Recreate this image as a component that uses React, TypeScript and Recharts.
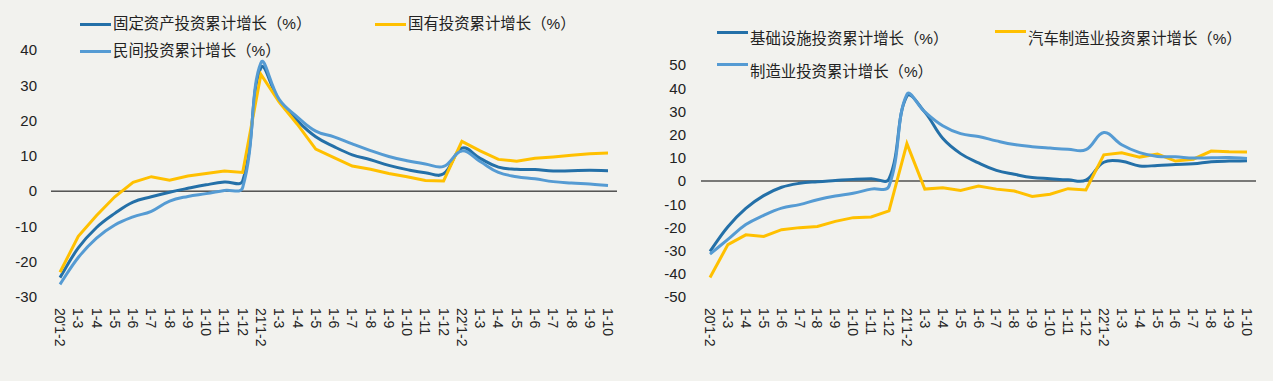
import React from 'react';
import { LineChart, Line, XAxis, YAxis, ReferenceLine } from 'recharts';

// categories (monthly cumulative, 2020-2022)
const categories = [
  "20'1-2", '1-3', '1-4', '1-5', '1-6', '1-7', '1-8', '1-9', '1-10', '1-11', '1-12',
  "21'1-2", '1-3', '1-4', '1-5', '1-6', '1-7', '1-8', '1-9', '1-10', '1-11', '1-12',
  "22'1-2", '1-3', '1-4', '1-5', '1-6', '1-7', '1-8', '1-9', '1-10',
];

// left chart
const fixedAsset = [
  -24.5, -16.1, -10.3, -6.3, -3.1, -1.6, -0.3, 0.8, 1.8, 2.6, 2.9,
  35.0, 25.6, 19.9, 15.4, 12.6, 10.3, 8.9, 7.3, 6.1, 5.2, 4.9,
  12.2, 9.3, 6.8, 6.2, 6.1, 5.7, 5.8, 5.9, 5.8,
];
const stateOwned = [
  -23.0, -12.8, -6.9, -1.6, 2.5, 4.1, 3.1, 4.3, 5.0, 5.7, 5.3,
  33.1, 25.2, 18.9, 11.9, 9.5, 7.1, 6.2, 5.0, 4.1, 3.0, 2.9,
  14.1, 11.4, 9.0, 8.5, 9.3, 9.7, 10.2, 10.6, 10.8,
];
const privateInv = [
  -26.4, -18.8, -13.3, -9.6, -7.3, -5.7, -2.8, -1.5, -0.7, 0.2, 1.0,
  36.4, 26.0, 21.0, 17.0, 15.4, 13.4, 11.5, 9.8, 8.6, 7.7, 7.0,
  11.4, 8.4, 5.3, 4.1, 3.5, 2.7, 2.3, 2.0, 1.6,
];

// right chart
const infra = [
  -30.3, -19.7, -11.8, -6.3, -2.7, -1.0, -0.3, 0.2, 0.7, 1.0, 0.9,
  36.6, 29.7, 18.4, 11.8, 7.8, 4.6, 2.9, 1.5, 1.0, 0.5, 0.4,
  8.1, 8.5, 6.5, 6.7, 7.1, 7.4, 8.3, 8.6, 8.7,
];
const autoMfg = [
  -41.6, -27.4, -23.2, -23.9, -21.0, -20.1, -19.6, -17.4, -15.8, -15.5, -12.9,
  16.1, -3.5, -2.9, -4.1, -2.2, -3.5, -4.3, -6.7, -5.7, -3.3, -3.9,
  11.3, 12.2, 10.3, 11.6, 8.6, 9.4, 12.9, 12.6, 12.5,
];
const mfg = [
  -31.5, -25.2, -18.8, -14.8, -11.7, -10.2, -8.1, -6.5, -5.3, -3.5, -2.2,
  37.3, 29.8, 23.8, 20.4, 19.2, 17.3, 15.7, 14.8, 14.2, 13.7, 13.5,
  20.9, 15.6, 12.2, 10.6, 10.4, 9.9, 10.0, 10.1, 9.7,
];

const leftTicks = [-30, -20, -10, 0, 10, 20, 30, 40];
const rightTicks = [-50, -40, -30, -20, -10, 0, 10, 20, 30, 40, 50];

const DARK = '#2470a8';
const LIGHT = '#559bd3';
const YELLOW = '#ffc000';
const BG = '#f2f2ee';
const FONT = '"Liberation Sans", Arial, "Noto Sans CJK SC", sans-serif';

const leftData = categories.map((cat, i) => ({
  cat, fixed: fixedAsset[i], state: stateOwned[i], priv: privateInv[i],
}));
const rightData = categories.map((cat, i) => ({
  cat, infra: infra[i], auto: autoMfg[i], mfg: mfg[i],
}));

// Excel-like smoothed line: bezier with handles weighted by segment lengths
const smooth = (context: any) => {
  let pts: number[][] = [];
  const dist = (a: number[], b: number[]) => Math.hypot(a[0] - b[0], a[1] - b[1]);
  return {
    areaStart() {},
    areaEnd() {},
    lineStart() { pts = []; },
    point(x: number, y: number) { pts.push([+x, +y]); },
    lineEnd() {
      if (!pts.length) return;
      context.moveTo(pts[0][0], pts[0][1]);
      const t = 0.4;
      for (let i = 0; i < pts.length - 1; i++) {
        const p0 = pts[i - 1] || pts[i];
        const p1 = pts[i];
        const p2 = pts[i + 1];
        const p3 = pts[i + 2] || p2;
        const d01 = dist(p0, p1), d12 = dist(p1, p2), d23 = dist(p2, p3);
        const f1 = d01 + d12 > 0 ? (d12 / (d01 + d12)) * t : 0;
        const f2 = d12 + d23 > 0 ? (d12 / (d12 + d23)) * t : 0;
        context.bezierCurveTo(
          p1[0] + (p2[0] - p0[0]) * f1, p1[1] + (p2[1] - p0[1]) * f1,
          p2[0] - (p3[0] - p1[0]) * f2, p2[1] - (p3[1] - p1[1]) * f2,
          p2[0], p2[1],
        );
      }
    },
  };
};

const RotatedTick = (props: any) => {
  const { x, y, payload } = props;
  return (
    <g transform={`translate(${x},${y})`}>
      <text transform="rotate(90)" x={0} y={0} dy="0.35em" textAnchor="start" fontSize={14} fill="#222" fontFamily={FONT}>
        {payload.value}
      </text>
    </g>
  );
};

const LegendItem = ({ x, lineY, textY, color, label }: any) => (
  <>
    <div style={{ position: 'absolute', left: x, top: lineY - 1.5, width: 31, height: 3, background: color }} />
    <div style={{ position: 'absolute', left: x + 33, top: textY - 10, fontSize: 15.4, lineHeight: '20px', color: '#222', whiteSpace: 'nowrap', fontFamily: FONT }}>
      {label}
    </div>
  </>
);

const App = () => {
  return (
    <div style={{ position: 'fixed', left: 0, top: 0, width: 1273, height: 381, background: BG, fontFamily: FONT }}>
      <div style={{ position: 'absolute', left: 0, top: 0 }}>
        <LineChart width={636} height={381} data={leftData} margin={{ top: 50, right: 19, bottom: 0, left: 0 }}>
          <XAxis dataKey="cat" interval={0} tick={<RotatedTick />} axisLine={false} tickLine={false} tickSize={0} tickMargin={11} height={84}
            padding={{ left: 9, right: 9 }} />
          <YAxis domain={[-30, 40]} ticks={leftTicks} width={51} axisLine={false} tickLine={false} tickSize={0} tickMargin={14}
            tick={{ fontSize: 15, fill: '#222', fontFamily: FONT }} />
          <ReferenceLine y={0} stroke="#000" strokeWidth={1} />
          <Line dataKey="fixed" type={smooth as any} stroke={DARK} strokeWidth={3} dot={false} isAnimationActive={false} />
          <Line dataKey="state" type="linear" stroke={YELLOW} strokeWidth={3} dot={false} isAnimationActive={false} />
          <Line dataKey="priv" type={smooth as any} stroke={LIGHT} strokeWidth={3} dot={false} isAnimationActive={false} />
        </LineChart>
      </div>
      <div style={{ position: 'absolute', left: 636, top: 0 }}>
        <LineChart width={637} height={381} data={rightData} margin={{ top: 65, right: 17, bottom: 0, left: 0 }}>
          <XAxis dataKey="cat" interval={0} tick={<RotatedTick />} axisLine={false} tickLine={false} tickSize={0} tickMargin={11} height={84}
            padding={{ left: 9, right: 9 }} />
          <YAxis domain={[-50, 50]} ticks={rightTicks} width={65} axisLine={false} tickLine={false} tickSize={0} tickMargin={15}
            tick={{ fontSize: 15, fill: '#222', fontFamily: FONT }} />
          <ReferenceLine y={0} stroke="#000" strokeWidth={1} />
          <Line dataKey="infra" type={smooth as any} stroke={DARK} strokeWidth={3} dot={false} isAnimationActive={false} />
          <Line dataKey="auto" type="linear" stroke={YELLOW} strokeWidth={3} dot={false} isAnimationActive={false} />
          <Line dataKey="mfg" type={smooth as any} stroke={LIGHT} strokeWidth={3} dot={false} isAnimationActive={false} />
        </LineChart>
      </div>
      <LegendItem x={80} lineY={24} textY={24} color={DARK} label="固定资产投资累计增长（%）" />
      <LegendItem x={375} lineY={24} textY={24} color={YELLOW} label="国有投资累计增长（%）" />
      <LegendItem x={80} lineY={51} textY={51} color={LIGHT} label="民间投资累计增长（%）" />
      <LegendItem x={717} lineY={32} textY={39} color={DARK} label="基础设施投资累计增长（%）" />
      <LegendItem x={995} lineY={31} textY={39} color={YELLOW} label="汽车制造业投资累计增长（%）" />
      <LegendItem x={717} lineY={64} textY={72} color={LIGHT} label="制造业投资累计增长（%）" />
    </div>
  );
};

export default App;
